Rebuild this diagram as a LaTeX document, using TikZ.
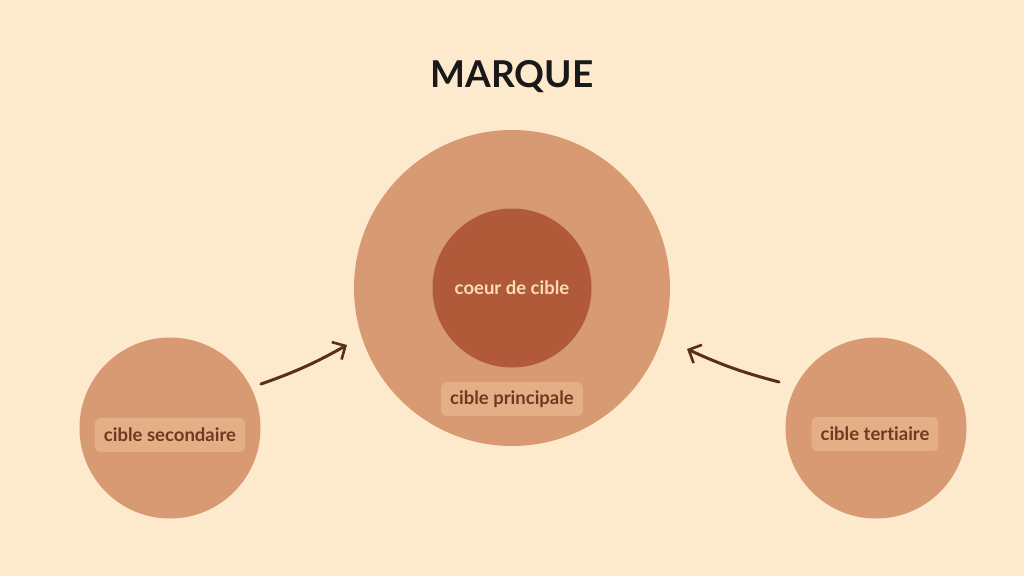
\documentclass[tikz,border=0pt]{standalone}
\usepackage{fontspec}
\setmainfont[Ligatures={NoCommon,NoRare,NoContextual}]{Lato}
\usetikzlibrary{arrows.meta}
\definecolor{bg}{HTML}{FDE9CC}
\definecolor{ring}{HTML}{D89A72}
\definecolor{core}{HTML}{B05A3A}
\definecolor{lab}{HTML}{E4AE86}
\definecolor{labtxt}{HTML}{6E3A1F}
\definecolor{coretxt}{HTML}{FBDDB5}
\definecolor{arr}{HTML}{5A2E1E}
\begin{document}
\begin{tikzpicture}[x=1pt,y=-1pt,
  circ/.style={circle,fill=ring,draw=none,inner sep=0pt},
  labelbox/.style={fill=lab,rounded corners=5pt,inner xsep=9pt,minimum height=34pt,text=labtxt,font=\fontsize{18.5}{20}\selectfont\bfseries},
  arrowline/.style={draw=arr,line width=3pt,line cap=round,-{Straight Barb[length=10pt,width=20pt,line width=2.6pt]}}]
\fill[bg] (0,0) rectangle (1024,576);
\useasboundingbox (0,0) rectangle (1024,576);
\node[font=\fontsize{37}{40}\selectfont\bfseries,text=black!90] (title) at (512,77) {MARQUE};
\node[circ,minimum size=316pt] (big) at (512,288) {};
\node[circ,fill=core,minimum size=159pt] (core) at (512,288) {};
\node[text=coretxt,font=\fontsize{18.5}{20}\selectfont\bfseries] (coretext) at (512,288) {coeur de cible};
\node[labelbox] (princ) at (512,399) {cible principale};
\node[circ,minimum size=181pt] (left) at (170,428) {};
\node[circ,minimum size=181pt] (right) at (876,428) {};
\node[labelbox] (sec) at (170,435) {cible secondaire};
\node[labelbox] (ter) at (875,434) {cible tertiaire};
\coordinate (ls) at (261,384);
\coordinate (le) at (347,345);
\coordinate (rs) at (779,382);
\coordinate (re) at (687,349);
\draw[arrowline] (ls) to[bend right=5] (le);
\draw[arrowline] (rs) to[bend left=5] (re);
\end{tikzpicture}
\end{document}
